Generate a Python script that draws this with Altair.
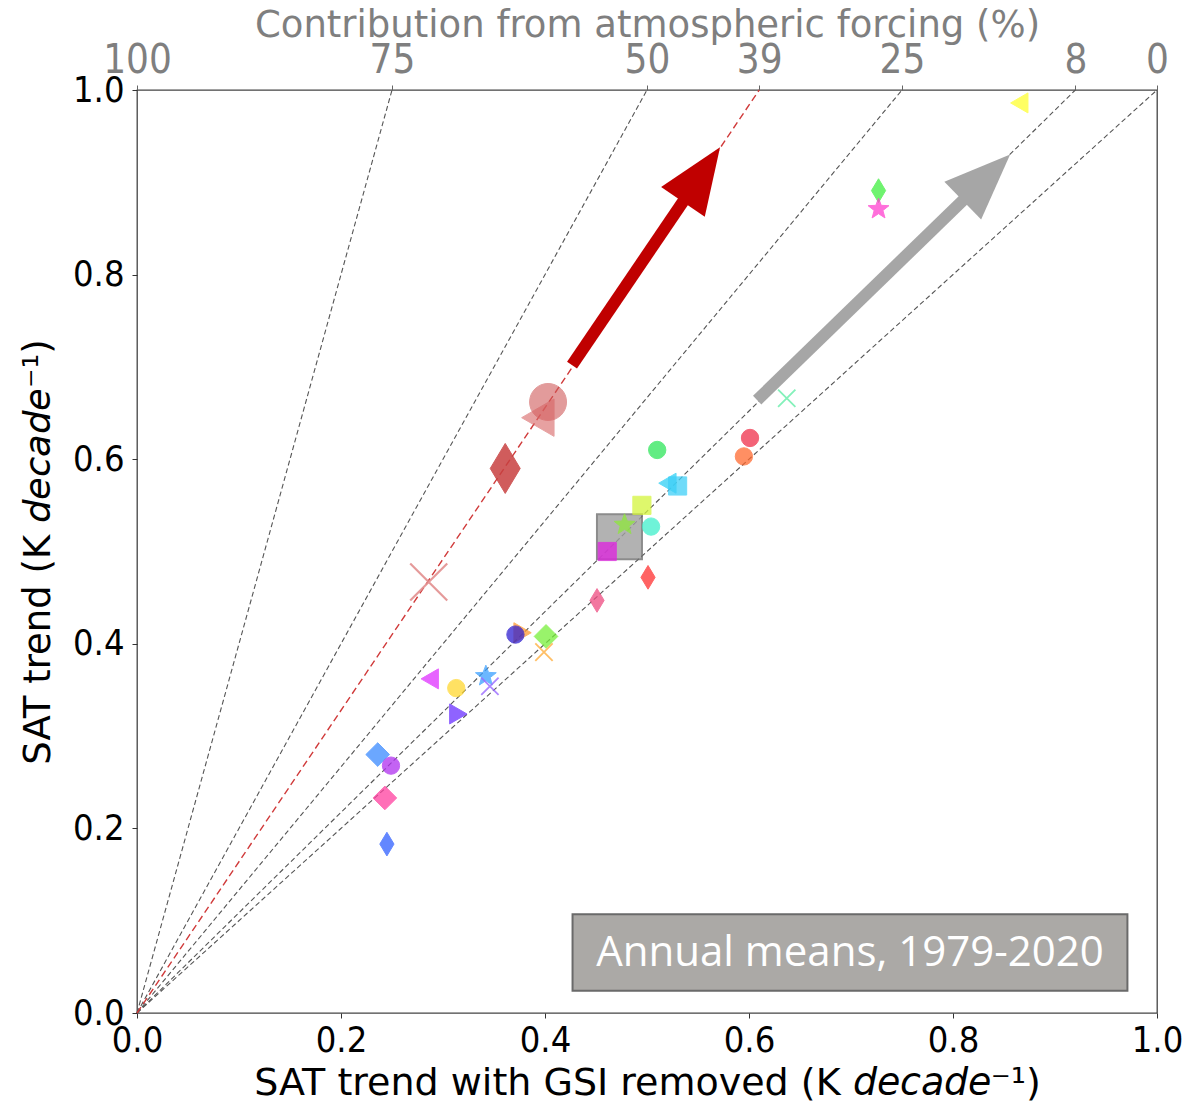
import math
import altair as alt
import pandas as pd

# ---------------- data ----------------
# contribution from atmospheric forcing (%) -> reference lines through origin
contrib_pct = [75, 50, 39, 25, 8, 0]
highlight_pct = 39
top_tick_pos = [0.0, 0.25, 0.50, 0.61, 0.75, 0.92, 1.0]

# individual members (x: SAT trend with GSI removed, y: SAT trend)
gsi_removed = [0.378, 0.510, 0.520, 0.530, 0.495, 0.478, 0.504, 0.461, 0.501, 0.451,
               0.601, 0.595, 0.371, 0.401, 0.287, 0.313, 0.342, 0.315, 0.236, 0.249,
               0.243, 0.245, 0.727, 0.727, 0.865]
sat_trend = [0.412, 0.610, 0.574, 0.571, 0.550, 0.529, 0.527, 0.500, 0.472, 0.447,
             0.623, 0.603, 0.410, 0.408, 0.362, 0.352, 0.365, 0.324, 0.280, 0.268,
             0.233, 0.183, 0.891, 0.871, 0.986]
member_marker = ["tri_right", "circle", "tri_left", "square", "square", "star", "circle", "square",
                 "thin_diamond", "thin_diamond", "circle", "circle", "circle", "diamond",
                 "tri_left", "circle", "star", "tri_right", "diamond", "circle", "diamond",
                 "thin_diamond", "thin_diamond", "star", "tri_left"]
member_color = ["#ff9a30", "#2ee65a", "#2fd0f5", "#3fd0f8", "#d4f53c", "#8ee83a", "#40f0cc",
                "#e020e0", "#ff3030", "#ee4a80", "#f0304a", "#ff6a30", "#3020d0", "#78f03a",
                "#e030ff", "#ffd830", "#3aa0ff", "#6a30ff", "#3a8aff", "#b030f0", "#ff40a0",
                "#3060ff", "#40f040", "#ff40d0", "#ffff30"]

# members drawn as crosses
x_gsi_removed = [0.637, 0.399, 0.346]
x_sat_trend = [0.666, 0.391, 0.354]
x_color = ["#66eeaa", "#ffb040", "#9a6aff"]

# highlighted (large) markers
big_gsi_removed = [0.403, 0.393, 0.361]
big_sat_trend = [0.662, 0.645, 0.590]
big_marker = ["circle", "tri_left", "thin_diamond"]
big_color = ["#d05a5a", "#d86464", "#c84040"]
big_alpha = [0.6, 0.6, 0.85]
bigx_gsi_removed = [0.286]
bigx_sat_trend = [0.467]

# multi-model mean (grey square)
mean_gsi_removed = [0.473]
mean_sat_trend = [0.516]

# arrows: start and tip (data units)
arrow_start_x = [0.4265, 0.608]
arrow_start_y = [0.702, 0.664]
arrow_tip_x = [0.5716, 0.856]
arrow_tip_y = [0.938, 0.930]
arrow_color = ["#c00000", "#a6a6a6"]

# annotation box
box_x = [0.427, 0.971]
box_y = [0.024, 0.107]
box_label = "Annual means, 1979-2020"

# ---------------- styling ----------------
W, H = 1020, 923
TICK_FONT = "DejaVu Sans Condensed, DejaVu Sans"
TITLE_FONT = "DejaVu Sans"


def star_path(n=5, r_out=1.0, r_in=0.42):
    pts = []
    for i in range(2 * n):
        r = r_out if i % 2 == 0 else r_in
        a = -math.pi / 2 + i * math.pi / n
        pts.append(f"{r*math.cos(a):.3f},{r*math.sin(a):.3f}")
    return "M" + "L".join(pts) + "Z"


SHAPES = {
    "circle": "circle",
    "square": "square",
    "diamond": "diamond",
    "tri_left": "triangle-left",
    "tri_right": "triangle-right",
    "thin_diamond": "M0,-1L0.6,0L0,1L-0.6,0Z",
    "star": star_path(),
}
SIZES = {"circle": 300, "square": 330, "diamond": 560, "tri_left": 400,
         "tri_right": 400, "thin_diamond": 560, "star": 480}
BIG_SIZES = {"circle": 1369, "tri_left": 1400, "thin_diamond": 2500}
X_PATH = "M-1,-1L1,1M-1,1L1,-1"

x_scale = alt.Scale(domain=[0, 1], nice=False, zero=False)
y_scale = alt.Scale(domain=[0, 1], nice=False, zero=False)

bottom_axis = alt.Axis(
    orient="bottom", values=[0, 0.2, 0.4, 0.6, 0.8, 1.0], format=".1f",
    title="SAT trend with GSI removed (K 𝘥𝘦𝘤𝘢𝘥𝘦⁻¹)",
    grid=False, domain=False, tickSize=5, tickColor="#333", tickWidth=1,
    labelFont=TICK_FONT, labelFontSize=36, labelColor="black", labelPadding=5, labelFlush=False,
    titleFont=TITLE_FONT, titleFontSize=38, titleColor="black", titleFontWeight="normal",
    titleY=81, titleBaseline="alphabetic",
)
top_axis = alt.Axis(
    orient="top", values=top_tick_pos,
    labelExpr="format((1 - datum.value) * 100, '.0f')",
    title="Contribution from atmospheric forcing (%)",
    grid=False, domain=False, tickSize=5, tickColor="#666", tickWidth=1,
    labelFont=TICK_FONT, labelFontSize=40, labelColor="#7f7f7f", labelPadding=13,
    labelBaseline="alphabetic", labelFlush=False,
    titleFont=TITLE_FONT, titleFontSize=37, titleColor="#7f7f7f", titleFontWeight="normal",
    titleY=-54, titleBaseline="alphabetic",
)
left_axis = alt.Axis(
    orient="left", values=[0, 0.2, 0.4, 0.6, 0.8, 1.0], format=".1f",
    title="SAT trend (K 𝘥𝘦𝘤𝘢𝘥𝘦⁻¹)",
    grid=False, domain=False, tickSize=5, tickColor="#333", tickWidth=1,
    labelFont=TICK_FONT, labelFontSize=36, labelColor="black", labelPadding=8, labelFlush=False,
    titleFont=TITLE_FONT, titleFontSize=37, titleColor="black", titleFontWeight="normal", titlePadding=15,
)

# ---------------- tables ----------------
lines_df = pd.DataFrame({
    "pct": contrib_pct,
    "x0": [0.0] * len(contrib_pct),
    "y0": [0.0] * len(contrib_pct),
    "x1": [1 - p / 100 for p in contrib_pct],
    "y1": [1.0] * len(contrib_pct),
})
grey_lines = lines_df[lines_df.pct != highlight_pct]
red_line = lines_df[lines_df.pct == highlight_pct]

members = pd.DataFrame({
    "x": gsi_removed, "y": sat_trend,
    "shape": [SHAPES[m] for m in member_marker],
    "size": [SIZES[m] for m in member_marker],
    "color": member_color,
})
crosses = pd.DataFrame({"x": x_gsi_removed, "y": x_sat_trend, "color": x_color})
bigs = pd.DataFrame({
    "x": big_gsi_removed, "y": big_sat_trend,
    "shape": [SHAPES[m] for m in big_marker],
    "size": [BIG_SIZES[m] for m in big_marker],
    "color": big_color, "alpha": big_alpha,
})
bigx = pd.DataFrame({"x": bigx_gsi_removed, "y": bigx_sat_trend})
mean_df = pd.DataFrame({"x": mean_gsi_removed, "y": mean_sat_trend})

# arrows: shaft ends just inside the head base; head rotated along the arrow
HEAD_LEN = 66.0
shaft_rows, head_rows = [], []
for sx, sy, tx, ty, c in zip(arrow_start_x, arrow_start_y, arrow_tip_x, arrow_tip_y, arrow_color):
    dxp, dyp = (tx - sx) * W, (ty - sy) * H
    L = math.hypot(dxp, dyp)
    ux, uy = dxp / L, dyp / L
    ex = tx - ux * (HEAD_LEN - 8) / W
    ey = ty - uy * (HEAD_LEN - 8) / H
    shaft_rows.append({"x": sx, "y": sy, "x2": ex, "y2": ey, "color": c})
    head_rows.append({"x": tx, "y": ty, "angle": math.degrees(math.atan2(dxp, dyp)), "color": c})
shafts = pd.DataFrame(shaft_rows)
heads = pd.DataFrame(head_rows)

box_df = pd.DataFrame({"x": [box_x[0]], "x2": [box_x[1]], "y": [box_y[0]], "y2": [box_y[1]]})
box_text = pd.DataFrame({"x": [(box_x[0] + box_x[1]) / 2], "y": [(box_y[0] + box_y[1]) / 2], "t": [box_label]})

# ---------------- layers ----------------
L_grey = alt.Chart(grey_lines).mark_rule(color="#555555", strokeWidth=1.1, strokeDash=[5, 3]).encode(
    x=alt.X("x0:Q", scale=x_scale, axis=top_axis),
    y=alt.Y("y0:Q", scale=y_scale, axis=left_axis),
    x2="x1:Q", y2="y1:Q",
)
L_red = alt.Chart(red_line).mark_rule(color="#d03a3a", strokeWidth=1.4, strokeDash=[7, 4]).encode(
    x=alt.X("x0:Q", scale=x_scale, axis=None),
    y=alt.Y("y0:Q", scale=y_scale, axis=None),
    x2="x1:Q", y2="y1:Q",
)
L_shaft = alt.Chart(shafts).mark_rule(strokeWidth=12, strokeCap="butt").encode(
    x=alt.X("x:Q", scale=x_scale, axis=None),
    y=alt.Y("y:Q", scale=y_scale, axis=None),
    x2="x2:Q", y2="y2:Q",
    color=alt.Color("color:N", scale=None),
)
L_head = alt.Chart(heads).mark_point(filled=True, opacity=1, shape="M0,0L0.4,1L-0.4,1Z",
                                     size=HEAD_LEN * HEAD_LEN * 4).encode(
    x=alt.X("x:Q", scale=x_scale, axis=None),
    y=alt.Y("y:Q", scale=y_scale, axis=None),
    angle=alt.Angle("angle:Q", scale=None),
    color=alt.Color("color:N", scale=None),
)
L_mean = alt.Chart(mean_df).mark_point(shape="square", size=2025, filled=True, fill="#a0a0a0",
                                       stroke="#707070", strokeWidth=2, opacity=0.8).encode(
    x=alt.X("x:Q", scale=x_scale, axis=None),
    y=alt.Y("y:Q", scale=y_scale, axis=None),
)
L_big = alt.Chart(bigs).mark_point(filled=True, strokeWidth=1).encode(
    x=alt.X("x:Q", scale=x_scale, axis=None),
    y=alt.Y("y:Q", scale=y_scale, axis=None),
    shape=alt.Shape("shape:N", scale=None),
    size=alt.Size("size:Q", scale=None),
    color=alt.Color("color:N", scale=None),
    stroke=alt.Stroke("color:N", scale=None),
    opacity=alt.Opacity("alpha:Q", scale=None),
)
L_bigx = alt.Chart(bigx).mark_point(shape=X_PATH, size=1369, filled=False, color="#e39090",
                                    strokeWidth=2.2, opacity=0.9).encode(
    x=alt.X("x:Q", scale=x_scale, axis=None),
    y=alt.Y("y:Q", scale=y_scale, axis=None),
)
L_members = alt.Chart(members).mark_point(filled=True, opacity=0.75, strokeWidth=1).encode(
    x=alt.X("x:Q", scale=x_scale, axis=bottom_axis),
    y=alt.Y("y:Q", scale=y_scale, axis=None),
    shape=alt.Shape("shape:N", scale=None),
    size=alt.Size("size:Q", scale=None),
    color=alt.Color("color:N", scale=None),
    stroke=alt.Stroke("color:N", scale=None),
)
L_cross = alt.Chart(crosses).mark_point(shape=X_PATH, size=300, filled=False, strokeWidth=1.8,
                                        opacity=0.8).encode(
    x=alt.X("x:Q", scale=x_scale, axis=None),
    y=alt.Y("y:Q", scale=y_scale, axis=None),
    color=alt.Color("color:N", scale=None),
)
L_box = alt.Chart(box_df).mark_rect(fill="#aba9a6", stroke="#6a6a6a", strokeWidth=2).encode(
    x=alt.X("x:Q", scale=x_scale, axis=None),
    y=alt.Y("y:Q", scale=y_scale, axis=None),
    x2="x2:Q", y2="y2:Q",
)
L_text = alt.Chart(box_text).mark_text(font="Open Sans", fontSize=42, color="white",
                                       align="center", baseline="middle").encode(
    x=alt.X("x:Q", scale=x_scale, axis=None),
    y=alt.Y("y:Q", scale=y_scale, axis=None),
    text="t:N",
)

chart = alt.layer(
    L_grey, L_red, L_shaft, L_head, L_mean, L_big, L_bigx, L_members, L_cross, L_box, L_text
).resolve_axis(x="independent", y="independent").properties(
    width=W, height=H,
    padding={"left": 129, "top": 82, "right": 27, "bottom": 89},
    autosize=alt.AutoSizeParams(type="none"),
    background="white",
).configure_view(stroke="#444444", strokeWidth=1.3)

chart.save("out.html", embed_options={"renderer": "svg", "actions": False})
